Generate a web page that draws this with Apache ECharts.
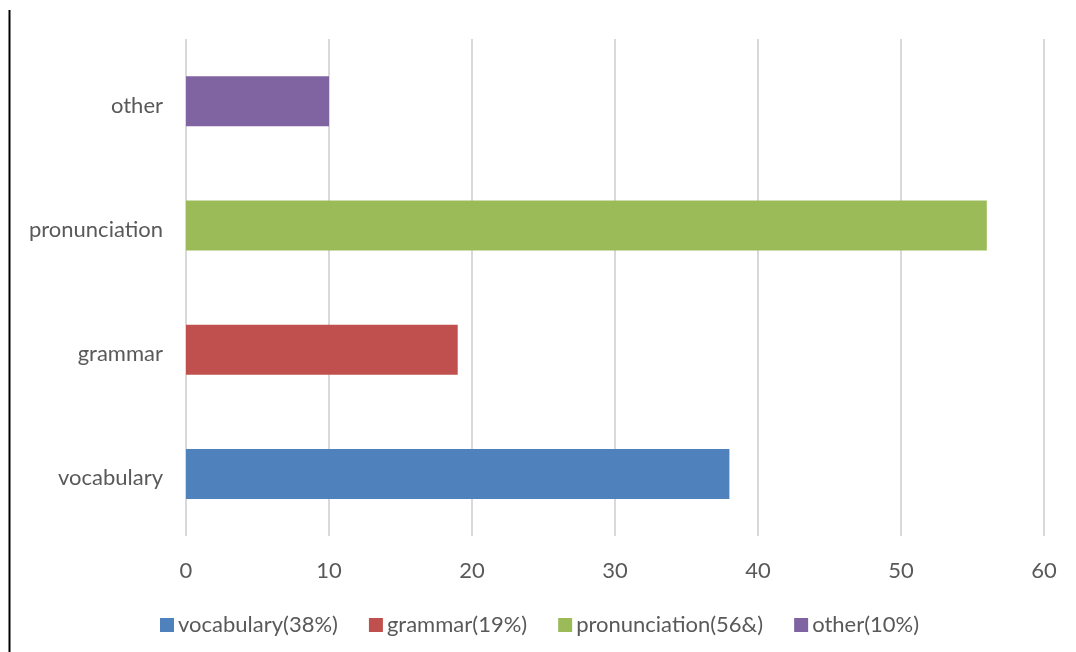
<!DOCTYPE html>
<html>
<head>
<meta charset="utf-8">
<script src="https://cdn.jsdelivr.net/npm/echarts@6/dist/echarts.min.js"></script>
<style>
  html, body { margin: 0; padding: 0; background: #fff; }
  #chart { width: 1076px; height: 652px; }
</style>
</head>
<body>
<div id="chart"></div>
<script>
// Problem areas reported by learners
const categories = ['vocabulary', 'grammar', 'pronunciation', 'other'];
const values = [38, 19, 56, 10];
const legendNames = ['vocabulary(38%)', 'grammar(19%)', 'pronunciation(56&)', 'other(10%)'];
const colors = ['#4f81bd', '#c0504d', '#9bbb59', '#8064a2'];
const xTicks = { min: 0, max: 60, interval: 10 };

const FONT = 'Lato, "Open Sans", sans-serif';
const TEXT = '#595959';
const SIZE = 22;

// One series per category so each bar gets its own legend entry
const series = categories.map((c, i) => ({
  name: legendNames[i],
  type: 'bar',
  stack: 'all',
  barWidth: 50,
  itemStyle: { color: colors[i] },
  data: categories.map((_, j) => (j === i ? values[i] : null))
}));

const chart = echarts.init(document.getElementById('chart'), null, { renderer: 'canvas' });
chart.setOption({
  animation: false,
  backgroundColor: '#fff',
  grid: { left: 186, right: 32, top: 39, bottom: 116, containLabel: false },
  legend: {
    data: legendNames,
    top: 609,
    left: 155,
    icon: 'rect',
    itemWidth: 14,
    itemHeight: 14,
    itemGap: 31,
    textStyle: { color: TEXT, fontSize: SIZE, fontFamily: FONT, padding: [0, 0, 0, -1] }
  },
  xAxis: {
    type: 'value',
    min: xTicks.min,
    max: xTicks.max,
    interval: xTicks.interval,
    axisLine: { show: false },
    axisTick: { show: false },
    axisLabel: { color: TEXT, fontSize: SIZE, fontFamily: FONT, margin: 24 },
    splitLine: { lineStyle: { color: '#d9d9d9', width: 2 } }
  },
  yAxis: {
    type: 'category',
    data: categories,
    axisLine: { show: false },
    axisTick: { show: false },
    axisLabel: {
      formatter: v => '{t|' + v + '}',
      margin: 23,
      rich: { t: { color: TEXT, fontSize: SIZE, fontFamily: FONT, padding: [9, 0, 0, 0] } }
    }
  },
  series: series,
  graphic: [{
    type: 'line',
    shape: { x1: 9.5, y1: 10, x2: 9.5, y2: 652 },
    style: { stroke: '#000', lineWidth: 2 }
  }]
});
</script>
</body>
</html>
